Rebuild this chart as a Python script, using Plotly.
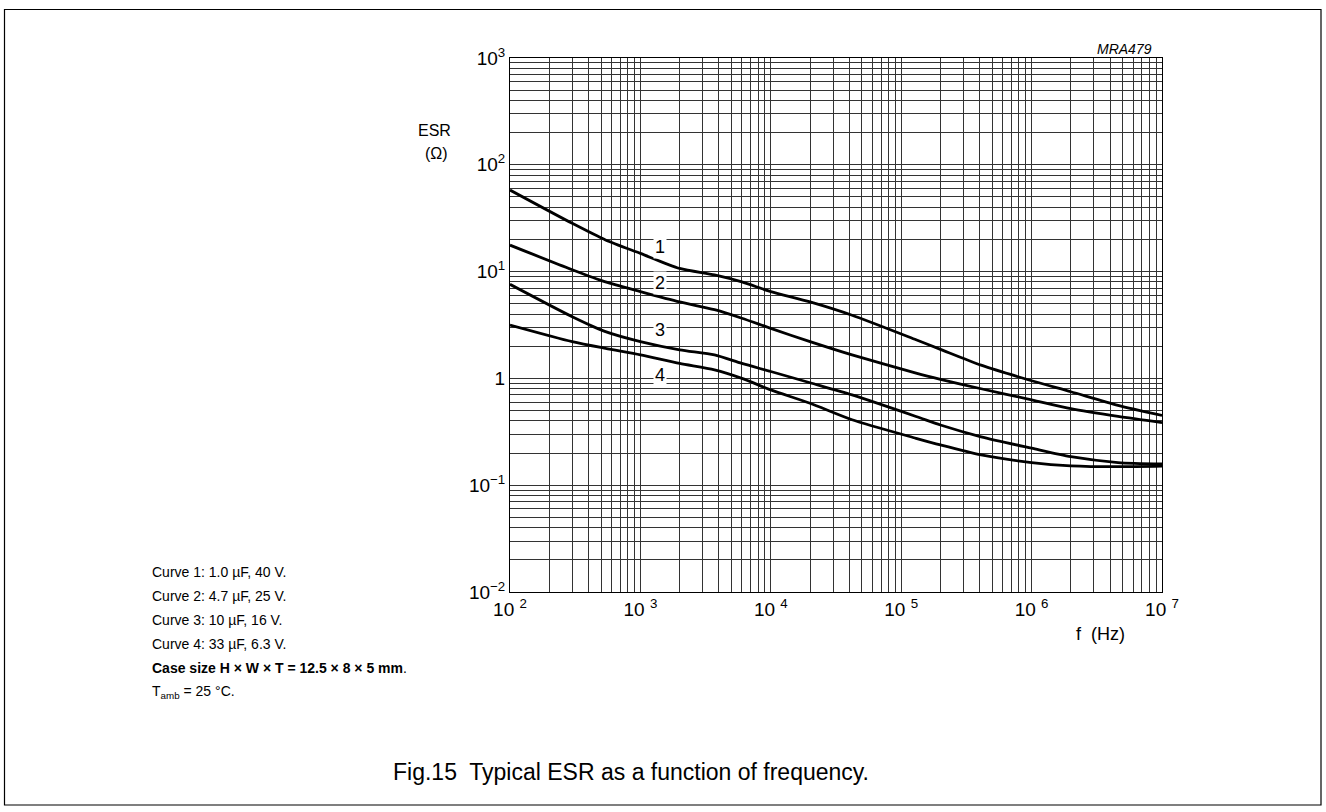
import numpy as np
import plotly.graph_objects as go

# ---------------- data ----------------
freq_hz = [100, 300, 540, 1000, 2000, 3700, 6000, 10000, 20000, 42000,
           130000, 200000, 410000, 1000000, 2000000, 4600000, 10000000]
esr_curve1 = [58.0, 28.3, 19.8, 14.8, 10.7, 9.3, 8.0, 6.5, 5.2, 3.9,
              2.3, 1.87, 1.33, 0.95, 0.75, 0.56, 0.45]
esr_curve2 = [17.7, 10.4, 8.0, 6.5, 5.2, 4.4, 3.66, 2.94, 2.21, 1.66,
              1.12, 0.98, 0.80, 0.63, 0.52, 0.44, 0.385]
esr_curve3 = [7.6, 3.78, 2.74, 2.21, 1.85, 1.66, 1.38, 1.16, 0.91, 0.70,
              0.44, 0.366, 0.284, 0.222, 0.185, 0.163, 0.158]
esr_curve4 = [3.16, 2.21, 1.91, 1.66, 1.38, 1.20, 1.00, 0.78, 0.585, 0.41,
              0.275, 0.238, 0.192, 0.163, 0.152, 0.149, 0.151]
curve_names = ["1", "2", "3", "4"]
label_freq = [1420, 1420, 1420, 1420]
label_esr = [17.1, 7.8, 2.84, 1.08]

x_tickvals = [1e2, 1e3, 1e4, 1e5, 1e6, 1e7]
x_ticktext = ["10 <sup>2</sup>", "10 <sup>3</sup>", "10 <sup>4</sup>",
              "10 <sup>5</sup>", "10 <sup>6</sup>", "10 <sup>7</sup>"]
y_tickvals = [1e-2, 1e-1, 1, 1e1, 1e2, 1e3]
y_ticktext = ["10<sup>\u22122</sup>", "10<sup>\u22121</sup>", "1",
              "10<sup>1</sup>", "10<sup>2</sup>", "10<sup>3</sup>"]

notes = ["Curve 1: 1.0 \u00b5F, 40 V.",
         "Curve 2: 4.7 \u00b5F, 25 V.",
         "Curve 3: 10 \u00b5F, 16 V.",
         "Curve 4: 33 \u00b5F, 6.3 V.",
         "<b>Case size H \u00d7 W \u00d7 T = 12.5 \u00d7 8 \u00d7 5 mm</b>.",
         "T<sub>amb</sub> = 25 \u00b0C."]
caption = "Fig.15  Typical ESR as a function of frequency."

# ---------------- figure ----------------
FONT = "Arial, Liberation Sans, Helvetica, sans-serif"
W, H = 1326, 812
L, R, T, B = 510, 1162, 58, 592


def px(x):
    return (x - L) / (R - L)


def py(y):
    return (B - y) / (B - T)


def minor_vals(lo, hi):
    out = []
    for e in range(lo, hi):
        for k in range(2, 10):
            out.append(k * 10.0 ** e)
    return out


fig = go.Figure()
for ys in [esr_curve1, esr_curve2, esr_curve3, esr_curve4]:
    fig.add_trace(go.Scatter(x=freq_hz, y=ys, mode="lines",
                             line=dict(color="black", width=2.8, shape="spline", smoothing=0.7),
                             showlegend=False, hoverinfo="skip"))

grid_col = "#333333"
fig.update_xaxes(type="log", range=[2, 7], tickmode="array", tickvals=x_tickvals,
                 ticktext=x_ticktext, showgrid=True, gridcolor=grid_col, gridwidth=1,
                 ticks="", showline=True, mirror=True, linecolor="black", linewidth=1,
                 zeroline=False, tickfont=dict(family=FONT, size=19, color="black"),
                 minor=dict(tickmode="array", tickvals=minor_vals(2, 7), showgrid=True,
                            gridcolor=grid_col, gridwidth=1, ticks=""))
fig.update_yaxes(type="log", range=[-2, 3], tickmode="array", tickvals=y_tickvals,
                 ticktext=y_ticktext, showgrid=True, gridcolor=grid_col, gridwidth=1,
                 ticks="", showline=True, mirror=True, linecolor="black", linewidth=1,
                 zeroline=False, tickfont=dict(family=FONT, size=19, color="black"),
                 minor=dict(tickmode="array", tickvals=minor_vals(-2, 3), showgrid=True,
                            gridcolor=grid_col, gridwidth=1, ticks=""))

ann = []
for name, fx, ey in zip(curve_names, label_freq, label_esr):
    ann.append(dict(x=np.log10(fx), y=np.log10(ey), xref="x", yref="y", text=name,
                    showarrow=False, bgcolor="white", borderpad=1,
                    xanchor="center", yanchor="middle",
                    font=dict(family=FONT, size=18, color="black")))


def txt(x, y, text, size, xanchor="center", **kw):
    return dict(x=px(x), y=py(y), xref="paper", yref="paper", text=text,
                showarrow=False, xanchor=xanchor, yanchor="middle",
                font=dict(family=FONT, size=size, color="black"), **kw)


ann.append(txt(434, 130, "ESR", 16))
ann.append(txt(436, 153, "(\u03a9)", 16))
ann.append(txt(1154, 49, "<i>MRA479</i>", 14, xanchor="right"))
ann.append(txt(1100, 634, "f  (Hz)", 18))
for i, t in enumerate(notes):
    ann.append(txt(150, 572 + 24 * i, t, 14, xanchor="left"))
ann.append(txt(631, 772, caption, 23))

fig.add_shape(type="rect", xref="paper", yref="paper", x0=px(4.5), x1=px(1321),
              y0=py(9.5), y1=py(805), line=dict(color="black", width=1.2),
              fillcolor="rgba(0,0,0,0)", layer="above")

fig.update_layout(width=W, height=H, margin=dict(l=L, r=W - R, t=T, b=H - B),
                  paper_bgcolor="white", plot_bgcolor="white", annotations=ann,
                  font=dict(family=FONT, color="black"))

fig.write_html("out.html", include_plotlyjs=True, full_html=True,
               config={"displayModeBar": False})
